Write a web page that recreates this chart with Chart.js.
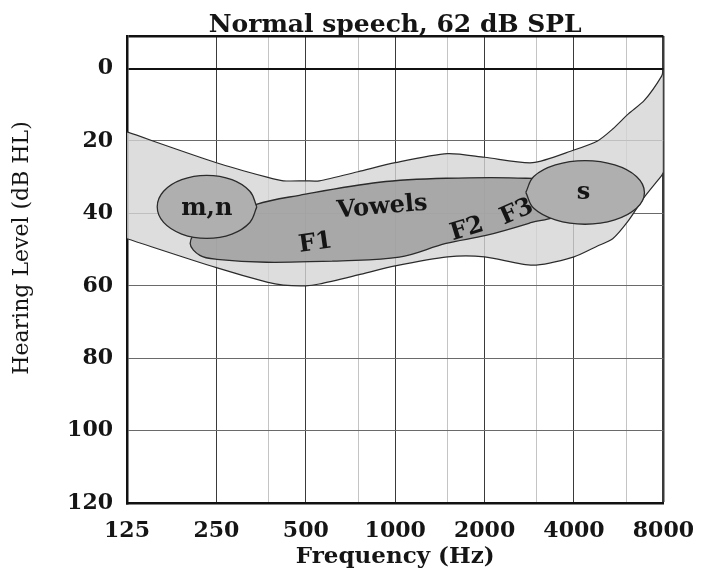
<!DOCTYPE html>
<html>
<head>
<meta charset="utf-8">
<title>Normal speech, 62 dB SPL</title>
<script src="https://cdn.jsdelivr.net/npm/chart.js@4.4.1/dist/chart.umd.min.js"></script>
<style>
  html, body { margin: 0; padding: 0; background: #fff; }
  #wrap { width: 709px; height: 571px; }
</style>
</head>
<body>
<div id="wrap"><canvas id="audiogram"></canvas></div>
<script>
// axes
const freqTicks = [125, 250, 500, 1000, 2000, 4000, 8000];
const freqMinor = [375, 750, 1500, 3000, 6000];
const dbTicks = [0, 20, 40, 60, 80, 100, 120];
const dbTop = -9;

// light gray speech area
const bandFreq  = [125, 250, 370, 420, 500, 555, 750, 1000, 1500, 2000, 2900, 4000, 4800, 5400, 6100, 6900, 7900, 8000];
const bandUpper = [17.5, 26, 30, 31, 31, 31, 28.5, 26, 23.5, 24.5, 26, 22.5, 20, 16.7, 12.5, 8.8, 2, 0];
const bandLower = [47, 55, 59, 59.8, 60, 59.5, 57, 54.5, 52, 52, 54.3, 52, 49, 47, 42, 35.5, 29.5, 28.7];

// vowel region (closed outline)
const vowelFreq = [614, 369, 251, 220, 204, 220, 341, 476, 884, 1483, 2753, 3553, 3553, 2884, 2021, 1483, 1032, 614];
const vowelDb   = [53.2, 53.5, 52.7, 51.6, 48.3, 44.1, 37.5, 35.0, 31.4, 30.3, 30.3, 31.7, 40.0, 42.5, 46.1, 48.3, 52.1, 53.2];

// m,n ellipse
const mnFreq = [342, 324, 282, 232, 191, 166, 158, 166, 191, 232, 282, 324, 342];
const mnDb   = [38.2, 33.9, 30.7, 29.5, 30.7, 33.9, 38.2, 42.5, 45.7, 46.9, 45.7, 42.5, 38.2];

// s ellipse
const sFreq = [2753, 2928, 3463, 4360, 5488, 6492, 6907, 6492, 5488, 4360, 3463, 2928, 2753];
const sDb   = [34.2, 29.8, 26.6, 25.4, 26.6, 29.8, 34.2, 38.6, 41.8, 43.0, 41.8, 38.6, 34.2];

// labels inside the chart
const noteText = ['m,n', 'Vowels', 'F1', 'F2', 'F3', 's'];
const noteFreq = [232, 904, 539, 1745, 2568, 4310];
const noteDb   = [38.6, 38.3, 48.3, 44.4, 39.7, 34.2];
const noteAngle = [0, -5, -8, -17, -24, 0];

const titleText = 'Normal speech, 62 dB SPL';
const xTitle = 'Frequency (Hz)';
const yTitle = 'Hearing Level (dB HL)';

const serif = '"DejaVu Serif", "Liberation Serif", serif';
const ink = '#151515';
const outline = '#2b2b2b';

function pts(xs, ys) {
    return xs.map((x, i) => ({ x: x, y: ys[i] }));
}

// chart title (centred over the plot) and the y axis title
const titlesPlugin = {
    id: 'titles',
    afterDraw(chart) {
        const ctx = chart.ctx;
        const area = chart.chartArea;
        ctx.save();
        ctx.fillStyle = ink;
        ctx.textAlign = 'center';
        ctx.font = 'bold 25px ' + serif;
        ctx.textBaseline = 'alphabetic';
        ctx.fillText(titleText, (area.left + area.right) / 2, 32);

        ctx.translate(22, 248);
        ctx.rotate(-Math.PI / 2);
        ctx.font = '22px ' + serif;
        ctx.textBaseline = 'middle';
        ctx.fillText(yTitle, 0, 0);
        ctx.restore();
    }
};

const notesPlugin = {
    id: 'notes',
    afterDatasetsDraw(chart) {
        const ctx = chart.ctx;
        const xs = chart.scales.x;
        const ys = chart.scales.y;
        ctx.save();
        ctx.font = 'bold 24px ' + serif;
        ctx.fillStyle = ink;
        ctx.textAlign = 'center';
        ctx.textBaseline = 'middle';
        noteText.forEach((txt, i) => {
            ctx.save();
            ctx.translate(xs.getPixelForValue(noteFreq[i]), ys.getPixelForValue(noteDb[i]));
            ctx.rotate(noteAngle[i] * Math.PI / 180);
            ctx.fillText(txt, 0, 0);
            ctx.restore();
        });
        ctx.restore();
    }
};

const canvas = document.getElementById('audiogram');
new Chart(canvas.getContext('2d'), {
    type: 'line',
    data: {
        datasets: [
            {
                label: 'm,n',
                data: pts(mnFreq, mnDb),
                borderColor: outline,
                borderWidth: 1.3,
                backgroundColor: '#afafaf',
                fill: 'shape',
                tension: 0.4,
                pointRadius: 0,
            },
            {
                label: 's',
                data: pts(sFreq, sDb),
                borderColor: outline,
                borderWidth: 1.3,
                backgroundColor: '#afafaf',
                fill: 'shape',
                tension: 0.4,
                pointRadius: 0,
            },
            {
                label: 'Vowels',
                data: pts(vowelFreq, vowelDb),
                borderColor: outline,
                borderWidth: 1.3,
                backgroundColor: 'rgba(160,160,160,0.88)',
                fill: 'shape',
                tension: 0.35,
                pointRadius: 0,
            },
            {
                label: 'upper',
                data: pts(bandFreq, bandUpper),
                borderColor: outline,
                borderWidth: 1.2,
                fill: false,
                tension: 0.25,
                pointRadius: 0,
            },
            {
                label: 'lower',
                data: pts(bandFreq, bandLower),
                borderColor: outline,
                borderWidth: 1.2,
                backgroundColor: 'rgba(212,212,212,0.8)',
                fill: 3,
                tension: 0.25,
                pointRadius: 0,
            },
        ],
    },
    options: {
        responsive: true,
        maintainAspectRatio: false,
        animation: false,
        events: [],
        layout: { padding: { left: 0, right: 44, top: 36, bottom: 0 } },
        plugins: {
            legend: { display: false },
            tooltip: { enabled: false },
            title: { display: false },
        },
        scales: {
            x: {
                type: 'logarithmic',
                min: 125,
                max: 8000,
                afterBuildTicks: (scale) => {
                    scale.ticks = freqTicks.concat(freqMinor).sort((a, b) => a - b).map((v) => ({ value: v }));
                },
                afterFit: (scale) => { scale.height = 68; },
                ticks: {
                    autoSkip: false,
                    maxRotation: 0,
                    padding: 15,
                    color: ink,
                    font: { family: serif, size: 22, weight: 'bold' },
                    callback: (v) => (freqTicks.includes(v) ? String(v) : ''),
                },
                grid: {
                    drawTicks: false,
                    color: (c) => (c.tick && freqTicks.includes(c.tick.value) ? '#3a3a3a' : '#c4c4c4'),
                    lineWidth: (c) => (c.tick && c.tick.value === 8000 ? 2.5 : 1),
                },
                border: { display: true, color: '#111', width: 2.5 },
                title: {
                    display: true,
                    text: xTitle,
                    color: ink,
                    font: { family: serif, size: 23, weight: 'bold' },
                    padding: { top: 0, bottom: 0 },
                },
            },
            y: {
                type: 'linear',
                reverse: true,
                min: dbTop,
                max: 120,
                afterBuildTicks: (scale) => {
                    scale.ticks = [dbTop].concat(dbTicks).map((v) => ({ value: v }));
                },
                afterFit: (scale) => { scale.width = 127; },
                ticks: {
                    padding: 14,
                    color: ink,
                    font: { family: serif, size: 22, weight: 'bold' },
                    callback: (v) => (v === dbTop ? '' : String(v)),
                },
                grid: {
                    drawTicks: false,
                    color: (c) => (c.tick && (c.tick.value === dbTop || c.tick.value === 0) ? '#111' : '#6a6a6a'),
                    lineWidth: (c) => (c.tick && c.tick.value === dbTop ? 2.5 : (c.tick && c.tick.value === 0 ? 2 : 1)),
                },
                border: { display: true, color: '#111', width: 2.5 },
            },
        },
    },
    plugins: [notesPlugin, titlesPlugin],
});
</script>
</body>
</html>
